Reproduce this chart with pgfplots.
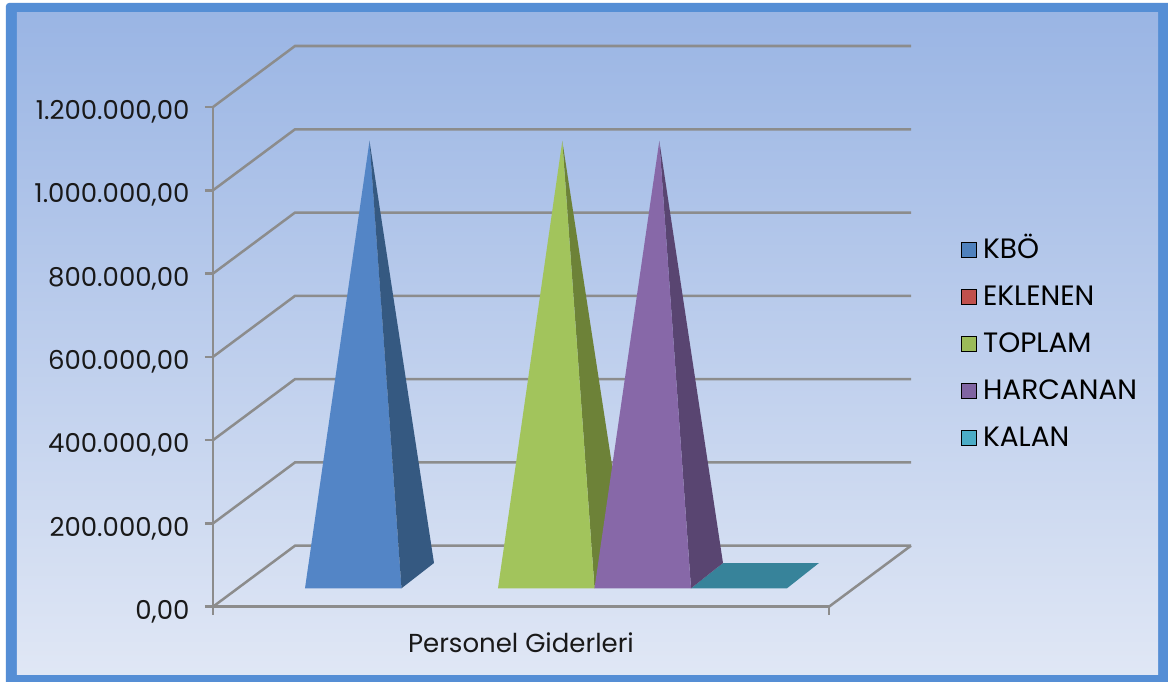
\documentclass[border=0pt]{standalone}
\usepackage{fontspec}
\setmainfont{Poppins}
\usepackage{pgfplots}
\usepackage{pgfplotstable}
\pgfplotsset{compat=1.18}

\definecolor{framec}{HTML}{558ED5}
\definecolor{bgtop}{HTML}{9AB5E4}
\definecolor{bgbot}{HTML}{E0E7F5}
\definecolor{gridc}{HTML}{8C8C8C}
\definecolor{kbof}{RGB}{83,133,198}
\definecolor{kbos}{RGB}{53,89,129}
\definecolor{topf}{RGB}{162,196,92}
\definecolor{tops}{RGB}{109,130,56}
\definecolor{harf}{RGB}{135,104,168}
\definecolor{hars}{RGB}{89,69,113}
\definecolor{kalf}{RGB}{55,131,154}
\definecolor{lkbo}{RGB}{79,129,189}
\definecolor{lekl}{RGB}{192,80,77}
\definecolor{ltop}{RGB}{155,187,89}
\definecolor{lhar}{RGB}{128,100,162}
\definecolor{lkal}{RGB}{75,172,198}

% one pixel of depth in chart units
\def\pxv{2401.4}

% x in pixels along the floor, d = pixels above the front corner, v = value
\pgfplotstableread{
x d
213 0
295 61
911 61
}\wall
\pgfplotstableread{
x d
213 0
829 0
911 61
}\floorline

\pgfplotstableread{
x d v
305 18.4 0
401.5 18.4 0
369.5 31 1044000
}\kbofront
\pgfplotstableread{
x d v
401.5 18.4 0
434 43.7 0
369.5 31 1044000
}\kboside
\pgfplotstableread{
x d v
498 18.4 0
594.5 18.4 0
562.3 31 1044000
}\topfront
\pgfplotstableread{
x d v
594.5 18.4 0
627 43.7 0
562.3 31 1044000
}\topside
\pgfplotstableread{
x d v
594.5 18.4 0
691 18.4 0
659.3 31 1044000
}\harfront
\pgfplotstableread{
x d v
691 18.4 0
723 43.7 0
659.3 31 1044000
}\harside
\pgfplotstableread{
x d v
691 18.4 0
787 18.4 0
819 43.7 0
723 43.7 0
}\kalan

\pgfplotsset{
  face/.style={draw=none,fill=#1,forget plot},
  sq/.style={legend image code/.code={\fill[##1] (0pt,-8pt) rectangle (15pt,7pt);\path (21.5pt,0pt);}},
}

\begin{document}
\begin{tikzpicture}
  \path[use as bounding box] (-213pt,-74.3pt) rectangle (955pt,606.7pt);
  \begin{scope}[x=1pt,y=1pt]
    \fill[white] (-213,-74.3) rectangle (955,606.7);
    \fill[framec,rounded corners=3pt] (-207,-90) rectangle (975,603.7);
    \shade[top color=bgtop,bottom color=bgbot] (-196,-67.8) rectangle (945,593.7);
  \end{scope}
  \begin{axis}[
      at={(0pt,0pt)},
      scale only axis,
      width=616pt,
      height=499.7pt,
      xmin=213, xmax=829,
      ymin=0, ymax=1200000,
      clip=false,
      axis x line=bottom,
      axis y line=left,
      axis line style={gridc,line width=2.5pt,-},
      tick style={gridc,line width=2.5pt},
      major tick length=8pt,
      tick align=outside,
      xtick={213,829},
      xticklabels={,},
      ytick={0,200000,400000,600000,800000,1000000,1200000},
      scaled y ticks=false,
      y tick label style={xshift=-12pt,yshift=-5pt,/pgf/number format/.cd,fixed,fixed zerofill,precision=2,
        1000 sep={.},dec sep={,},assume math mode=true},
      tick label style={font=\fontsize{26}{30}\selectfont,text=black!90},
      xlabel={Personel Giderleri},
      xlabel style={font=\fontsize{26}{30}\selectfont,text=black!90,
        at={(axis description cs:0.5,0)},anchor=center,yshift=-36pt},
      legend cell align=left,
      legend style={at={(axis cs:961,884000)},anchor=north west,draw=none,fill=none,
        inner sep=0pt,row sep=27pt,font=\fontsize{28}{30}\selectfont,
        nodes={inner sep=0pt,text height=20pt,text depth=0pt}},
    ]
    \pgfplotsinvokeforeach{0,200000,400000,600000,800000,1000000,1200000}{
      \addplot[gridc,line width=2.5pt,forget plot] table[x=x,y expr=#1+\thisrow{d}*\pxv] {\wall};
    }
    \addplot[gridc,line width=2.5pt,forget plot] table[x=x,y expr=\thisrow{d}*\pxv] {\floorline};

    \addplot[face=kbof] table[x=x,y expr=\thisrow{v}+\thisrow{d}*\pxv] {\kbofront};
    \addplot[face=kbos] table[x=x,y expr=\thisrow{v}+\thisrow{d}*\pxv] {\kboside};
    \addplot[face=tops] table[x=x,y expr=\thisrow{v}+\thisrow{d}*\pxv] {\topside};
    \addplot[face=topf] table[x=x,y expr=\thisrow{v}+\thisrow{d}*\pxv] {\topfront};
    \addplot[face=kalf] table[x=x,y expr=\thisrow{v}+\thisrow{d}*\pxv] {\kalan};
    \addplot[face=hars] table[x=x,y expr=\thisrow{v}+\thisrow{d}*\pxv] {\harside};
    \addplot[face=harf] table[x=x,y expr=\thisrow{v}+\thisrow{d}*\pxv] {\harfront};

    \addlegendimage{sq,fill=lkbo}
    \addlegendentry{KBÖ}
    \addlegendimage{sq,fill=lekl}
    \addlegendentry{EKLENEN}
    \addlegendimage{sq,fill=ltop}
    \addlegendentry{TOPLAM}
    \addlegendimage{sq,fill=lhar}
    \addlegendentry{HARCANAN}
    \addlegendimage{sq,fill=lkal}
    \addlegendentry{KALAN}
  \end{axis}
\end{tikzpicture}
\end{document}
